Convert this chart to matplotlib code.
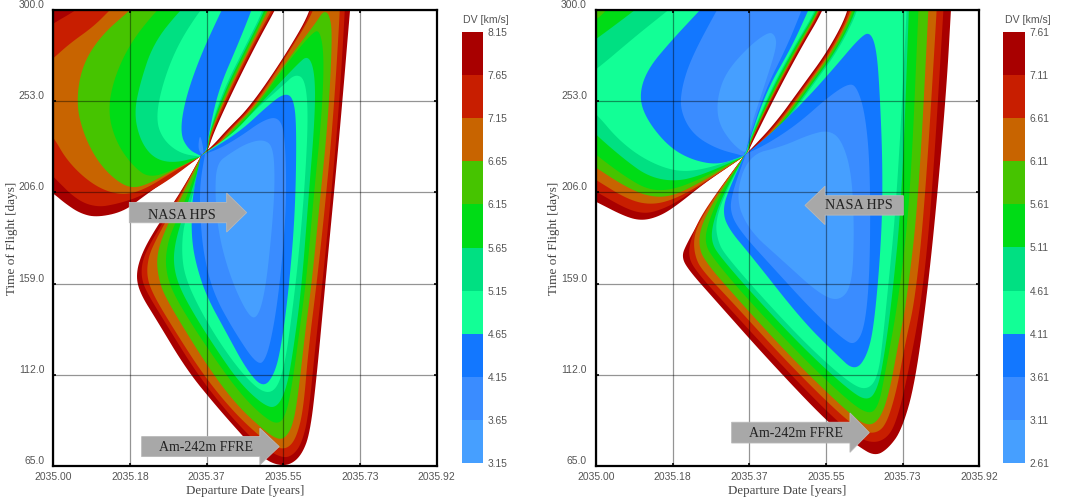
import matplotlib
matplotlib.use("Agg")
import matplotlib.pyplot as plt
from matplotlib.patches import FancyArrow

# ---- chart values -----------------------------------------------------------
DATE_BASE = 2035.0
x_tick_values = [2035.0, 2035.184, 2035.368, 2035.552, 2035.736, 2035.92]
x_tick_labels = ["2035.00", "2035.18", "2035.37", "2035.55", "2035.73", "2035.92"]
y_tick_values = [65, 112, 159, 206, 253, 300]
y_tick_labels = ["65.0", "112.0", "159.0", "206.0", "253.0", "300.0"]
left_levels = [3.15, 3.65, 4.15, 4.65, 5.15, 5.65, 6.15, 6.65, 7.15, 7.65, 8.15]
right_levels = [2.61, 3.11, 3.61, 4.11, 4.61, 5.11, 5.61, 6.11, 6.61, 7.11, 7.61]
band_colors = ["#469fff", "#3a8cff", "#1277ff", "#12ff96", "#00e082", "#00dc16",
               "#46c400", "#c86400", "#c81e00", "#a80000"]  # low to high

# Iso-DV contours (departure years after 2035, time of flight in days), outermost first.
# Left panel, upper-left lobe
LU0 = [(.352,224.4),(.272,212.4),(.216,203.8),(.168,196),(.104,193.1),(.064,195.2),(.028,200.4),(0,205.5),(-.048,212.4),(-.1,320),(.58,320),(.532,300),(.488,282.8),(.432,258.8),(.384,236.4),(.371,227.5),(.352,224.4)]
LU1 = [(.352,224.4),(.272,211.5),(.208,203.8),(.152,200),(.104,198.3),(.056,202.1),(0,214.1),(-.048,224.4),(-.048,286.3),(0,293.1),(.056,300),(.096,307),(.576,315),(.528,300),(.484,282.8),(.428,258.8),(.381,236.4),(.371,227.5),(.352,224.4)]
LU2 = [(.352,224.4),(.288,216.7),(.224,208.1),(.176,204.7),(.128,206.4),(.08,212.4),(.032,222.7),(0,234.7),(-.048,246.8),(-.048,266.5),(0,275.1),(.04,282.8),(.096,291.4),(.136,300),(.168,307),(.56,315),(.524,300),(.48,282.8),(.424,258.8),(.378,236.4),(.371,227.5),(.352,224.4)]
LU3 = [(.352,224.4),(.288,217.5),(.224,209.8),(.184,208.1),(.144,213.2),(.104,222.7),(.072,236.4),(.055,251.9),(.068,270.8),(.112,286.3),(.184,300),(.224,307),(.55,315),(.516,300),(.476,282.8),(.42,258.8),(.376,236.4),(.371,227.5),(.352,224.4)]
LU4 = [(.352,224.4),(.296,218.4),(.232,213.2),(.192,219.3),(.152,231.3),(.131,246.8),(.144,263.9),(.184,282.8),(.248,300),(.288,307),(.54,315),(.512,300),(.472,282.8),(.416,258.8),(.375,236.4),(.37,227.5),(.352,224.4)]
LU5 = [(.352,224.4),(.288,221),(.24,223.6),(.208,233),(.194,246.8),(.208,262.2),(.24,282.8),(.304,300),(.344,307),(.53,315),(.508,300),(.468,282.8),(.412,258.8),(.374,236.4),(.37,227.5),(.352,224.4)]
LU6 = [(.352,224.4),(.304,226.1),(.264,233),(.246,243.3),(.26,260.5),(.296,281.1),(.352,300),(.384,307),(.525,315),(.504,300),(.464,282.8),(.408,258.8),(.373,236.4),(.37,227.5),(.352,224.4)]
LU7 = [(.354,224.8),(.324,228.1),(.304,236.4),(.316,253.6),(.352,275.9),(.404,300),(.424,308.6),(.5,315),(.476,300),(.444,282.8),(.396,258.8),(.373,236),(.369,228),(.354,224.8)]
LU8 = [(.352,236.8),(.347,228.7),(.356,225.3),(.362,226.5)]
# Left panel, lower lobe
LR0 = [(.356,225.3),(.32,211.5),(.288,200.4),(.248,188.3),(.212,174.6),(.198,163.4),(.208,154),(.248,140.2),(.32,114.5),(.392,95.6),(.456,80.1),(.504,69),(.536,65.5),(.568,65.5),(.596,70.7),(.616,81.8),(.632,111),(.652,157.4),(.672,202.1),(.692,248.5),(.712,300),(.716,308.6),(.616,308.6),(.62,300),(.552,275.1),(.472,250.2),(.416,238.2),(.384,230.4),(.356,225.3)]
LR1 = [(.356,225.3),(.312,208.1),(.292,201.2),(.264,190.9),(.228,178),(.212,169.4),(.212,160.9),(.228,153.1),(.272,137.7),(.344,112.8),(.416,93),(.48,78.4),(.512,73.3),(.552,69),(.576,70.7),(.596,76.7),(.612,90.4),(.628,124.8),(.644,155.7),(.664,198.6),(.684,245),(.7,300),(.7,308.6),(.612,308.6),(.624,300),(.5536,275.1),(.476,250.2),(.42,238.2),(.388,230.4),(.356,225.3)]
LR2 = [(.356,225.3),(.304,203.8),(.272,191.8),(.248,182.3),(.228,172.9),(.224,162.6),(.24,153.1),(.288,135.9),(.36,111.9),(.432,93),(.496,80.1),(.536,74.1),(.564,74.1),(.584,80.1),(.6,93.9),(.612,124.8),(.632,159.1),(.652,198.6),(.672,245),(.688,300),(.688,308.6),(.628,308.6),(.628,300),(.556,275.1),(.48,250.2),(.424,238.2),(.392,230.4),(.356,225.3)]
LR3 = [(.358,225.5),(.308,203.8),(.276,190.1),(.256,179.7),(.248,171.2),(.252,162.6),(.264,154),(.308,137.7),(.376,114.5),(.44,96.4),(.504,83.6),(.54,78.4),(.56,80.1),(.576,87),(.588,102.4),(.604,133.4),(.62,159.1),(.64,202.1),(.66,245),(.67,288),(.662,298),(.648,299.5),(.632,294),(.562,274.2),(.484,250.2),(.428,238.2),(.396,230.4),(.358,225.5)]
LR4 = [(.358,225.5),(.32,203.8),(.296,191.8),(.276,181.5),(.268,169.4),(.28,157.4),(.32,142),(.384,121.3),(.448,102.4),(.504,90.4),(.54,86.1),(.56,92.1),(.576,111),(.592,136.8),(.608,162.6),(.624,202.1),(.644,245),(.65,275.9),(.64,289.5),(.622,288.5),(.56,272.5),(.488,250.2),(.432,238.2),(.4,230.4),(.358,225.5)]
LR5 = [(.358,225.5),(.328,203.8),(.308,191.8),(.292,179.7),(.288,169.4),(.3,158.3),(.336,143.7),(.392,124.8),(.448,107.6),(.504,96.4),(.536,94.7),(.56,105),(.576,124.8),(.596,157.4),(.612,202.1),(.628,245),(.628,267.4),(.612,277),(.584,271.7),(.512,255.3),(.44,238.2),(.404,230.4),(.358,225.5)]
LR6 = [(.358,225.5),(.332,202.1),(.312,188.3),(.308,174.6),(.316,162.6),(.348,147.1),(.4,128.2),(.456,111.9),(.504,102.4),(.536,104.2),(.556,117.9),(.572,142),(.588,171.2),(.604,210.7),(.612,246.8),(.604,264.5),(.58,267),(.552,261.3),(.488,249.3),(.432,236.4),(.358,225.5)]
LR7 = [(.354,224.8),(.34,210.7),(.332,198.6),(.332,181.5),(.344,167.7),(.368,152.3),(.416,133.4),(.464,114.5),(.504,105),(.532,112.8),(.548,128.2),(.564,154),(.58,193.5),(.584,236.4),(.578,254),(.556,257.5),(.512,250.2),(.448,237.3),(.354,224.8)]
LR8 = [(.364,225.8),(.352,210.7),(.352,195.2),(.36,174.6),(.384,154),(.432,135.1),(.49,116.5),(.512,120.5),(.532,140.2),(.548,167.7),(.56,202.1),(.556,236.4),(.54,245),(.504,243.3),(.448,234.7),(.4,228.7),(.364,225.8)]
LR9 = [(.392,221),(.388,205.5),(.396,184.9),(.424,162.6),(.464,143.7),(.488,140.2),(.508,154),(.524,184.9),(.532,210.7),(.528,229.6),(.504,233.4),(.464,231.3),(.424,226.1)]
# Right panel, upper-left lobe
RU0 = [(.354,224.4),(.27,212.4),(.19,198.6),(.15,193.5),(.11,191.4),(.07,193.5),(0,201.2),(-.05,206.4),(-.1,320),(.58,320),(.546,300),(.494,281.1),(.438,258.8),(.382,234.7),(.365,227),(.354,224.4)]
RU1 = [(.354,224.4),(.254,209.8),(.19,200.4),(.142,196),(.11,195.2),(.07,197.8),(0,206.4),(-.05,212.4),(-.1,320),(.575,320),(.542,300),(.49,281.1),(.434,258.8),(.378,234.7),(.365,227),(.354,224.4)]
RU2 = [(.354,224.4),(.254,210.3),(.19,202.6),(.134,199.5),(.078,202.1),(0,212.4),(-.05,219.3),(-.1,320),(.57,320),(.539,300),(.487,281.1),(.431,258.8),(.375,234.4),(.365,227),(.354,224.4)]
RU3 = [(.354,224.4),(.254,211.5),(.182,203.8),(.126,203.8),(.07,209),(0,218.7),(-.05,226.1),(-.1,320),(.565,320),(.537,300),(.485,281.1),(.429,258.8),(.374,234),(.365,227),(.354,224.4)]
RU4 = [(.354,224.4),(.254,213.2),(.182,207.2),(.126,207.2),(.07,214.1),(0,225.3),(-.05,234.7),(-.05,289.7),(0,294.8),(.026,300),(.066,310),(.56,315),(.534,300),(.482,281.1),(.426,258.8),(.371,233.3),(.364,227),(.354,224.4)]
RU5 = [(.354,224.4),(.254,214.9),(.19,211.5),(.126,214.1),(.07,222.7),(0,235.6),(-.05,246.8),(-.05,277.7),(0,284.9),(.094,300),(.134,307),(.555,315),(.531,300),(.478,281.1),(.422,258.8),(.369,232.6),(.364,227),(.354,224.4)]
RU6 = [(.354,224.4),(.254,217.5),(.19,216.7),(.118,222.7),(.054,233),(0,246.8),(-.05,255.3),(-.05,262.2),(0,269.1),(.094,286.3),(.174,300),(.214,307),(.55,315),(.528,300),(.475,281.1),(.419,258.8),(.366,231.8),(.363,227),(.354,224.4)]
RU7 = [(.354,224.8),(.294,220.1),(.23,222.7),(.174,229.6),(.122,243.3),(.103,255.3),(.122,269.1),(.182,284.5),(.25,300),(.278,307),(.54,315),(.51,300),(.47,281.1),(.41,258.8),(.366,231.3),(.362,227.5),(.354,224.8)]
RU8 = [(.354,224.8),(.286,228.7),(.23,236.4),(.202,248.5),(.206,260.5),(.23,275.9),(.29,300),(.31,307),(.52,315),(.494,300),(.458,281.1),(.406,258.8),(.362,229.6),(.354,224.8)]
RU9 = [(.414,288.8),(.43,287.1),(.434,281.1),(.406,262.2),(.374,241.6),(.362,229.6),(.359,225.8),(.326,231.3),(.294,241.6),(.29,253.6),(.31,267.4),(.366,281.1)]
# Right panel, lower lobe
RR0 = [(.354,224.4),(.302,209),(.254,193.5),(.218,179.7),(.205,172.9),(.222,166),(.286,150.5),(.414,119.6),(.558,87),(.63,75),(.67,70),(.702,74.1),(.734,83.6),(.766,107.6),(.798,159.1),(.822,210.7),(.842,262.2),(.852,300),(.854,308.6),(.606,308.6),(.606,299.1),(.558,279.4),(.494,260.5),(.43,241.6),(.366,227),(.354,224.4)]
RR1 = [(.354,224.4),(.294,207.2),(.246,191.8),(.226,180.6),(.222,172.9),(.238,166),(.302,150.5),(.43,120.5),(.566,90.4),(.63,79.3),(.67,76.7),(.702,80.1),(.722,88.7),(.746,109.3),(.782,150.5),(.806,202.1),(.834,300),(.836,308.6),(.61,308.6),(.61,300),(.562,279.4),(.498,260.5),(.434,241.6),(.37,227),(.354,224.4)]
RR2 = [(.354,224.4),(.29,205.5),(.246,190.1),(.234,181.5),(.238,172.9),(.254,166),(.326,149.7),(.45,120.5),(.574,93.9),(.638,82.7),(.674,81.8),(.698,87),(.722,104.2),(.742,128.2),(.766,150.5),(.79,202.1),(.818,300),(.819,308.6),(.614,308.6),(.614,300),(.566,279.4),(.502,260.5),(.438,241.6),(.374,227),(.354,224.4)]
RR3 = [(.358,225.3),(.294,205.5),(.254,190.1),(.246,179.7),(.258,171.2),(.342,150.5),(.47,120.5),(.59,95.6),(.646,85.6),(.678,87.8),(.702,100.7),(.726,128.2),(.746,150.5),(.774,202.1),(.798,300),(.799,308.6),(.618,308.6),(.618,300),(.57,279.4),(.506,260.5),(.442,241.6),(.378,227),(.358,225.3)]
RR4 = [(.358,225.3),(.298,205.5),(.266,188.3),(.262,179.7),(.278,172.9),(.358,152.3),(.486,123.1),(.598,99.9),(.654,91.3),(.678,95.6),(.694,112.8),(.726,150.5),(.754,202.1),(.774,300),(.775,308.6),(.622,308.6),(.622,300),(.574,279.4),(.51,260.5),(.446,241.6),(.382,227),(.358,225.3)]
RR5 = [(.358,225.3),(.302,203.8),(.278,188.3),(.278,179.7),(.298,172.9),(.374,154),(.494,126.5),(.606,104.2),(.654,98.1),(.678,105.9),(.694,124.8),(.71,150.5),(.734,202.1),(.751,300),(.752,308.6),(.626,308.6),(.626,300),(.578,279.4),(.514,260.5),(.45,241.6),(.386,227),(.358,225.3)]
RR6 = [(.358,225.3),(.306,203.8),(.286,190.1),(.294,179.7),(.314,172.9),(.39,154),(.51,126.5),(.614,106.7),(.654,104.2),(.678,111.9),(.69,133.4),(.698,150.5),(.722,202.1),(.746,300),(.746,308.6),(.63,308.6),(.63,300),(.582,279.4),(.518,260.5),(.454,241.6),(.39,227),(.358,225.3)]
RR7 = [(.356,225),(.322,209),(.304,197.8),(.314,188.3),(.374,172.9),(.494,140.2),(.574,123.1),(.622,113.5),(.654,123.1),(.67,142),(.686,184.9),(.688,219.3),(.682,253.6),(.674,279.4),(.658,289),(.632,285.5),(.574,270.8),(.51,255.3),(.43,238.2),(.356,225)]
RR8 = [(.36,225.8),(.326,205.5),(.322,195.2),(.35,184.9),(.43,166),(.518,145.4),(.59,130.8),(.622,127),(.646,136.8),(.658,167.7),(.658,219.3),(.646,246.8),(.626,260.5),(.606,262.2),(.558,255.3),(.486,241.6),(.414,231.3),(.36,225.8)]
RR9 = [(.366,225.3),(.334,203.8),(.366,186.6),(.446,171.2),(.534,154),(.582,149.7),(.614,157.4),(.62,184.9),(.614,215.8),(.59,233),(.558,238.2),(.51,235.6),(.446,229.6)]

left_upper = [LU0, LU1, LU2, LU3, LU4, LU5, LU6, LU7, LU8]
left_lower = [LR0, LR1, LR2, LR3, LR4, LR5, LR6, LR7, LR8, LR9]
right_upper = [RU0, RU1, RU2, RU3, RU4, RU5, RU6, RU7, RU8, RU9]
right_lower = [RR0, RR1, RR2, RR3, RR4, RR5, RR6, RR7, RR8, RR9]


def rounded(pts, passes=3):
    """Round the hand-read outline; a shared first/last vertex stays a sharp tip."""
    pts = list(pts)
    is_tip = pts[0] == pts[-1]
    for _ in range(passes):
        out = [pts[0]] if is_tip else []
        n = len(pts)
        stop = n - 1 if is_tip else n
        for i in range(stop):
            a, b = pts[i], pts[(i + 1) % n]
            out.append((.75 * a[0] + .25 * b[0], .75 * a[1] + .25 * b[1]))
            out.append((.25 * a[0] + .75 * b[0], .25 * a[1] + .75 * b[1]))
        if is_tip:
            out.append(pts[-1])
        pts = out
    return pts


W, H = 1065, 503
fig = plt.figure(figsize=(W / 100, H / 100), dpi=100)
SANS = "Liberation Sans"
SERIF = "Liberation Serif"
GRAY = "#555555"


def px_rect(x0, x1, y0, y1):
    return [x0 / W, 1 - y1 / H, (x1 - x0) / W, (y1 - y0) / H]


def panel(rect, lobes, arrows):
    ax = fig.add_axes(rect)
    for lobe in lobes:
        for i, contour in enumerate(lobe):
            xy = rounded(contour)
            ax.fill([DATE_BASE + p[0] for p in xy], [p[1] for p in xy],
                    color=band_colors[len(band_colors) - 1 - i], lw=0, zorder=2)
    ax.set_xlim(2035.0, 2035.92)
    ax.set_ylim(65, 300)
    ax.set_xticks(x_tick_values, x_tick_labels, fontfamily=SANS, fontsize=7.5, color=GRAY)
    ax.set_yticks(y_tick_values, y_tick_labels, fontfamily=SANS, fontsize=7.5, color=GRAY)
    for lab in ax.get_yticklabels():
        lab.set_verticalalignment("bottom")
    ax.tick_params(axis="x", direction="in", length=2.5, width=1.2, top=True, pad=4.3)
    ax.tick_params(axis="y", direction="in", length=2.5, width=1.2, right=True, pad=6.5)
    ax.grid(True, color="black", alpha=.42, lw=.9, zorder=3)
    ax.set_axisbelow(False)
    for s in ax.spines.values():
        s.set_linewidth(1.6)
        s.set_zorder(6)
    ax.set_xlabel("Departure Date [years]", fontfamily=SERIF, fontsize=9.3, color="#444444", va="center")
    ax.set_ylabel("Time of Flight [days]", fontfamily=SERIF, fontsize=9.5, color="#444444", va="center")
    ax.xaxis.set_label_coords(.5, -.054)
    ax.yaxis.set_label_coords(-.1085, .5)
    for (x, y, dx, width, head_w, head_l, label, tx, ty, fs) in arrows:
        ax.add_patch(FancyArrow(DATE_BASE + x, y, dx, 0, width=width, head_width=head_w,
                                head_length=head_l, length_includes_head=True,
                                facecolor="#a8a8a8", edgecolor="#b8b8b8", lw=.6, zorder=4))
        ax.text(DATE_BASE + tx, ty, label, family=SERIF, fontsize=fs, color="#222222",
                ha="center", va="center", zorder=5)
    return ax


def colourbar(rect, levels):
    cax = fig.add_axes(rect)
    cax.bar(0, [b - a for a, b in zip(levels[:-1], levels[1:])], bottom=levels[:-1],
            width=1, color=band_colors, lw=0)
    cax.set_xlim(-.5, .5)
    cax.set_ylim(levels[0], levels[-1])
    cax.set_xticks([])
    cax.yaxis.tick_right()
    cax.set_yticks(levels, [f"{v:.2f}" for v in levels], fontfamily=SANS, fontsize=7.4, color=GRAY)
    cax.tick_params(axis="y", length=0, pad=3.4)
    for s in cax.spines.values():
        s.set_visible(False)
    cax.text(.08, 1.028, "DV [km/s]", transform=cax.transAxes, family=SANS, fontsize=7.6,
             color=GRAY, ha="left", va="center")


panel(px_rect(53.3, 436.7, 10, 466), [left_upper, left_lower],
      [(.1824, 195.6, .2816, 10.5, 20.1, .048, "NASA HPS", .3096, 194.3, 10.2),
       (.212, 75, .33, 10.3, 18.9, .0464, "Am-242m FFRE", .366, 74.5, 10)])
panel(px_rect(596, 979.3, 10, 466), [right_upper, right_lower],
      [(.7376, 199.3, -.236, 10, 19.8, .048, "NASA HPS", .63, 199.3, 10.2),
       (.3256, 82.2, .3304, 10.7, 20.3, .0464, "Am-242m FFRE", .48, 81.8, 10)])
colourbar(px_rect(461.7, 482.7, 32, 463), left_levels)
colourbar(px_rect(1003.3, 1025, 32, 463), right_levels)

fig.savefig("out.png", dpi=100)
